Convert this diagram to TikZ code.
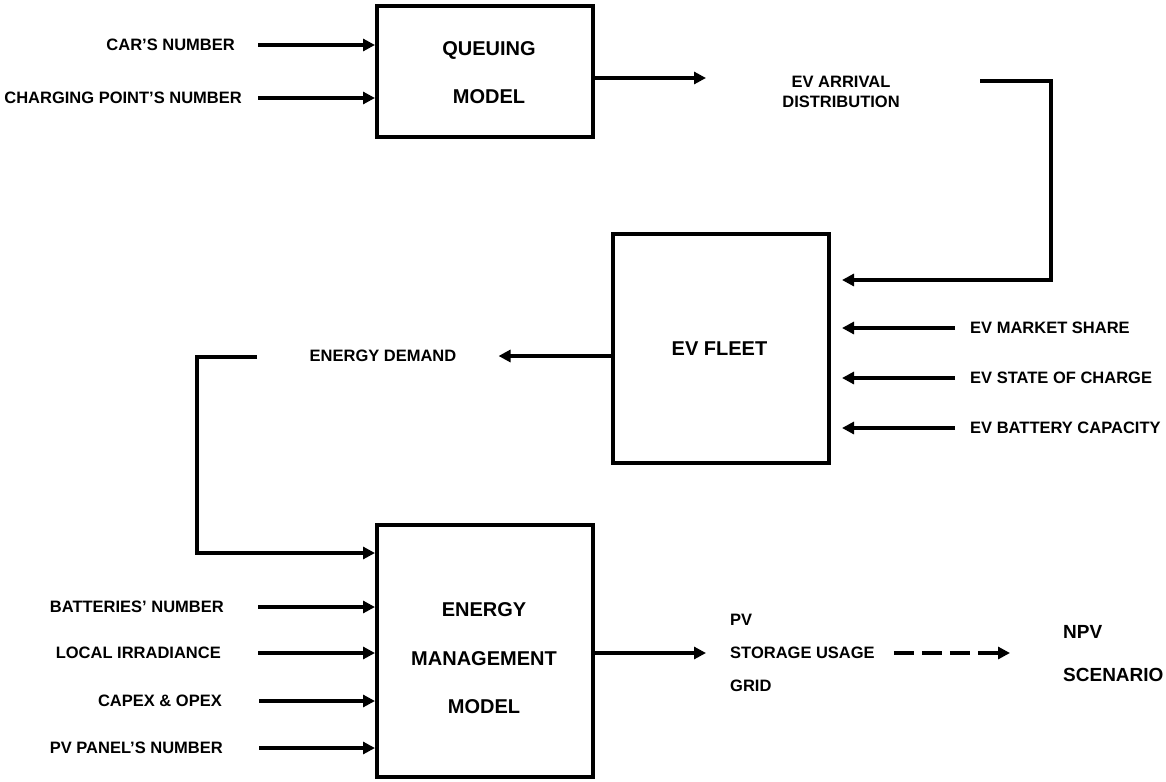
\documentclass[tikz,border=0pt]{standalone}
\usepackage{fontspec}
\setmainfont{Liberation Sans}
\usetikzlibrary{arrows.meta,calc}
\begin{document}
\begin{tikzpicture}[x=1pt,y=-1pt,
  box/.style={draw, line width=4pt, inner sep=0pt},
  boxtxt/.style={font=\fontsize{20}{48.5}\selectfont\bfseries, inner sep=0pt, align=center},
  lbl/.style={font=\fontsize{16.5}{20}\selectfont\bfseries, inner sep=0pt, text height=11.8pt, text depth=0pt},
  lblm/.style={font=\fontsize{16.5}{20}\selectfont\bfseries, inner sep=0pt},
  arr/.style={line width=4pt, -{Triangle[length=12pt,width=12pt]}},
  dasharr/.style={arr, dash pattern=on 20pt off 8pt},
]
\useasboundingbox (0,0) rectangle (1166,781);

% blocks
\node[box, minimum width=216pt, minimum height=131pt] (qm) at (485,71.5) {};
\node[boxtxt] (qmt) at (489,72.5) {QUEUING\\MODEL};
\node[box, minimum width=216pt, minimum height=229pt] (fleet) at (721,348.5) {};
\node[boxtxt] (fleett) at (719.5,349) {EV FLEET};
\node[box, minimum width=216pt, minimum height=252pt] (em) at (485,651) {};
\node[boxtxt] (emt) at (484,658.5) {ENERGY\\MANAGEMENT\\MODEL};

% queuing inputs
\node[lbl, anchor=east] (cars) at (235,45) {CAR’S NUMBER};
\node[lbl, anchor=east] (cpn) at (242,98) {CHARGING POINT’S NUMBER};
\draw[arr] ([xshift=23pt]cars.east) -- (cars -| qm.west);
\draw[arr] ([xshift=16pt]cpn.east) -- (cpn -| qm.west);

% queuing output
\node[lblm, align=center] (arrival) at (841,92) {EV ARRIVAL\\DISTRIBUTION};
\coordinate (qout) at (706,78);
\draw[arr] (qm.east |- qout) -- (qout);

% arrival distribution fed into the fleet
\coordinate (fbs) at (980,81);
\coordinate (fbc) at (1051,280);
\draw[arr, shorten >=11pt] (fbs) -| (fbc) -- (fbc -| fleet.east);

% fleet inputs
\node[lbl, anchor=west] (ms) at (970,328) {EV MARKET SHARE};
\node[lbl, anchor=west] (soc) at (970,378) {EV STATE OF CHARGE};
\node[lbl, anchor=west] (bc) at (970,428) {EV BATTERY CAPACITY};
\foreach \n in {ms,soc,bc}
  \draw[arr, shorten >=11pt] ([xshift=-15pt]\n.west) -- (\n -| fleet.east);

% fleet output
\node[lbl] (ed) at (383,356) {ENERGY DEMAND};
\draw[arr] (ed -| fleet.west) -- ([xshift=42pt]ed.east);

% energy demand fed into the energy management model
\coordinate (fl1) at (257,357);
\coordinate (fl2) at (197,553);
\draw[arr] (fl1) -| (fl2) -- (fl2 -| em.west);

% energy management inputs
\node[lbl, anchor=east] (bat) at (224,607) {BATTERIES’ NUMBER};
\node[lbl, anchor=east] (irr) at (221,653) {LOCAL IRRADIANCE};
\node[lbl, anchor=east] (capex) at (222,701) {CAPEX \& OPEX};
\node[lbl, anchor=east] (pvn) at (223,748) {PV PANEL’S NUMBER};
\draw[arr] ([xshift=34pt]bat.east) -- (bat -| em.west);
\draw[arr] ([xshift=37pt]irr.east) -- (irr -| em.west);
\draw[arr] ([xshift=37pt]capex.east) -- (capex -| em.west);
\draw[arr] ([xshift=36pt]pvn.east) -- (pvn -| em.west);

% energy management outputs
\node[font=\fontsize{16.5}{33}\selectfont\bfseries, inner sep=0pt, align=left, anchor=west] (out) at (730,653) {PV\\STORAGE USAGE\\GRID};
\draw[arr] (em.east |- out.west) -- ([xshift=-24pt]out.west);

\node[font=\fontsize{19}{43}\selectfont\bfseries, inner sep=0pt, align=left, anchor=west] (npv) at (1063,653.5) {NPV\\SCENARIO};
\draw[dasharr] ([xshift=19pt]out.east) -- ([xshift=-53pt]out.east -| npv.west);
\end{tikzpicture}
\end{document}
